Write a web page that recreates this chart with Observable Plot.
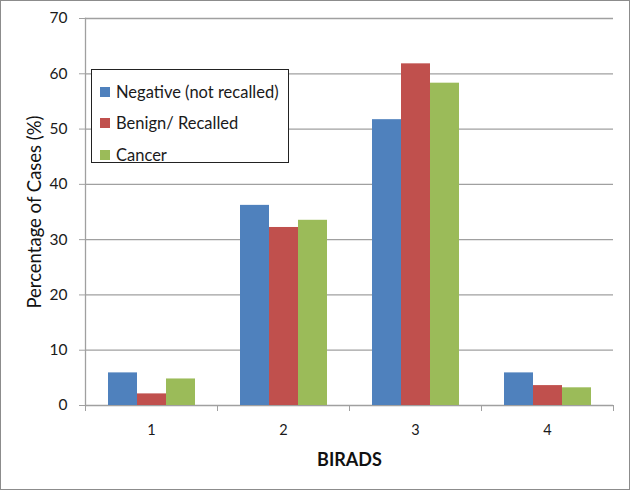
<!DOCTYPE html>
<html>
<head>
<meta charset="utf-8">
<script src="https://cdn.jsdelivr.net/npm/d3@7"></script>
<script src="https://cdn.jsdelivr.net/npm/@observablehq/plot@0.6"></script>
<style>
  html, body { margin: 0; padding: 0; background: #fff; }
  #wrap { position: relative; width: 630px; height: 490px; font-family: Lato, "Open Sans", sans-serif; }
  #border { position: absolute; left: 0; top: 0; width: 630px; height: 490px; box-sizing: border-box; border: 1px solid #8c8c8c; pointer-events: none; }
  #legend { position: absolute; left: 91px; top: 69px; width: 198px; height: 94px; box-sizing: border-box; border: 1px solid #222; background: #fff; padding: 6px 0 0 8px; }
  .item { display: flex; align-items: center; height: 31.5px; font-size: 16.5px; color: #1a1a1a; white-space: nowrap; }
  .sw { width: 10px; height: 10px; margin-right: 6px; flex: none; }
</style>
</head>
<body>
<div id="wrap"><div id="border"></div></div>
<script>
const categories = ["1", "2", "3", "4"];
const series = ["Negative (not recalled)", "Benign/ Recalled", "Cancer"];
const negative = [5.9, 36.2, 51.7, 5.9];
const benign = [2.1, 32.2, 61.8, 3.6];
const cancer = [4.8, 33.5, 58.3, 3.2];
const colors = ["#4F81BD", "#C0504D", "#9BBB59"];
const yTicks = [0, 10, 20, 30, 40, 50, 60, 70];

const values = [negative, benign, cancer];
const data = categories.flatMap((c, i) => series.map((s, j) => ({birads: c, series: s, value: values[j][i]})));

const grid = "#a0a0a0";
const chart = Plot.plot({
  width: 630,
  height: 490,
  marginLeft: 85,
  marginRight: 17,
  marginTop: 18,
  marginBottom: 85,
  style: {fontFamily: "Lato, 'Open Sans', sans-serif", fontSize: "13px", color: "#222", background: "transparent"},
  fx: {domain: categories, padding: 0, label: null},
  x: {domain: series, paddingInner: 0, paddingOuter: 0.75, axis: null},
  y: {domain: [0, 70], ticks: yTicks},
  color: {domain: series, range: colors},
  marks: [
    Plot.ruleY(yTicks, {stroke: grid, strokeWidth: 1.3}),
    Plot.barY(data, {fx: "birads", x: "series", y: "value", fill: "series"}),
    Plot.frame({anchor: "left", facetAnchor: "left", stroke: grid, strokeWidth: 1.3}),
    Plot.axisY({ticks: yTicks, tickSize: 6, tickPadding: 12, stroke: grid, fill: "#1a1a1a", fontSize: 15.5, label: null}),
    Plot.axisY({ticks: [], label: "Percentage of Cases (%)", labelAnchor: "center", labelArrow: "none", labelOffset: 58, fontSize: 18.5, fill: "#111"}),
    Plot.axisFx({anchor: "bottom", ticks: categories, tickSize: 6, text: null, dx: -66, stroke: grid, label: null}),
    Plot.axisFx({anchor: "bottom", ticks: ["4"], tickSize: 6, text: null, dx: 66, stroke: grid, label: null}),
    Plot.axisFx({anchor: "bottom", tickSize: 0, tickPadding: 19, fontSize: 14.5, fill: "#1a1a1a", label: null}),
    Plot.axisFx({anchor: "bottom", ticks: [], label: "BIRADS", labelAnchor: "center", labelArrow: "none", labelOffset: 60, fontSize: 18, fontWeight: "bold", fill: "#111"})
  ]
});
const wrap = document.getElementById("wrap");
wrap.insertBefore(chart, wrap.firstChild);

const legend = document.createElement("div");
legend.id = "legend";
series.forEach((s, j) => {
  const it = document.createElement("div");
  it.className = "item";
  const sw = document.createElement("span");
  sw.className = "sw";
  sw.style.background = colors[j];
  const t = document.createElement("span");
  t.textContent = s;
  it.appendChild(sw); it.appendChild(t);
  legend.appendChild(it);
});
wrap.appendChild(legend);
</script>
</body>
</html>
